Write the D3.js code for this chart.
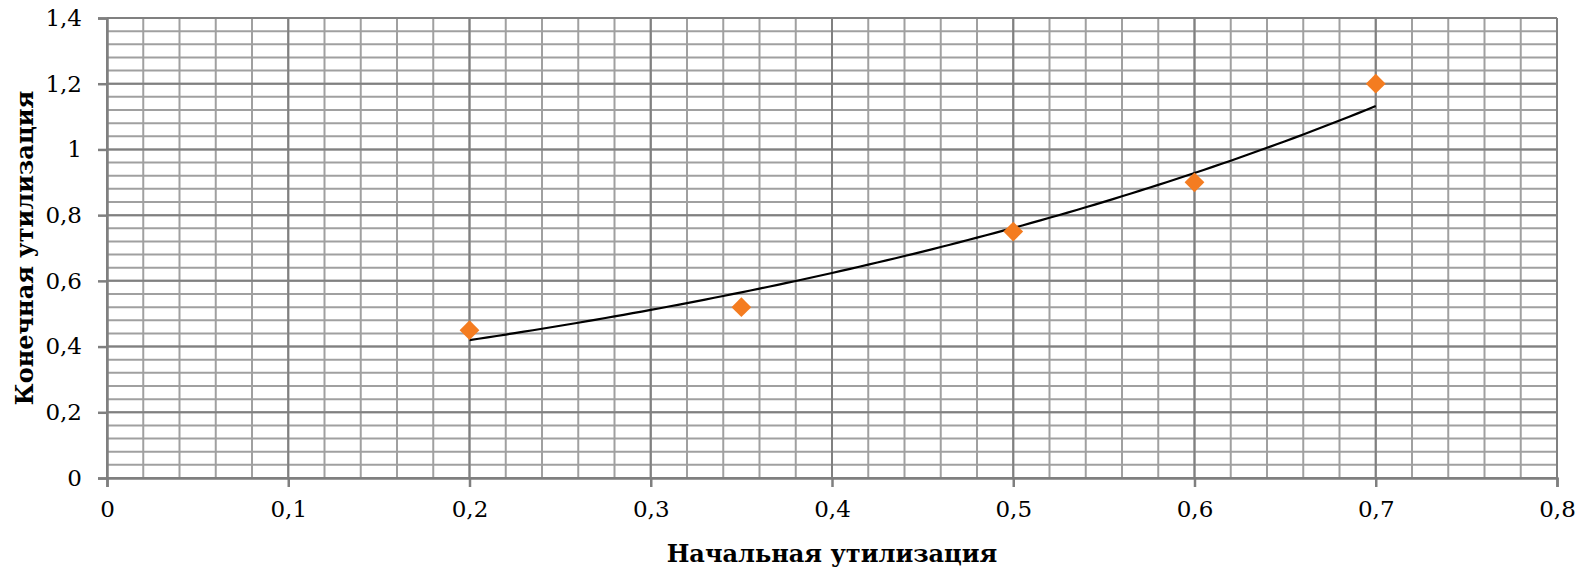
<!DOCTYPE html>
<html>
<head>
<meta charset="utf-8">
<script src="https://cdn.jsdelivr.net/npm/d3@7/dist/d3.min.js"></script>
<style>
  html, body { margin: 0; padding: 0; background: #fff; }
  svg { display: block; }
  text { font-family: "DejaVu Serif", "Liberation Serif", serif; fill: #000; }
</style>
</head>
<body>
<svg id="chart" width="1583" height="569"></svg>
<script>
// ---- data ----
const xValues = [0.2, 0.35, 0.5, 0.6, 0.7];
const yValues = [0.45, 0.52, 0.75, 0.9, 1.2];
const xTicks = [0, 0.1, 0.2, 0.3, 0.4, 0.5, 0.6, 0.7, 0.8];
const yTicks = [0, 0.2, 0.4, 0.6, 0.8, 1, 1.2, 1.4];
const xTitle = "Начальная утилизация";
const yTitle = "Конечная утилизация";

const svg = d3.select("#chart");
const margin = { left: 107, right: 26, top: 18, bottom: 91 };
const W = 1583, H = 569;
const x = d3.scaleLinear().domain([0, 0.8]).range([margin.left, W - margin.right]);
const y = d3.scaleLinear().domain([0, 1.4]).range([H - margin.bottom, margin.top]);

const fmt = v => d3.format("~g")(+v.toFixed(2)).replace(".", ",");

// minor grid
const g = svg.append("g");
const xMinor = d3.range(0, 0.8001, 0.02).map(v => +v.toFixed(2));
const yMinor = d3.range(0, 1.4001, 0.04).map(v => +v.toFixed(2));
g.selectAll(".vminor").data(xMinor).enter().append("line")
  .attr("x1", d => x(d)).attr("x2", d => x(d))
  .attr("y1", y(0)).attr("y2", y(1.4))
  .attr("stroke", "#a0a0a0").attr("stroke-width", 2);
g.selectAll(".hminor").data(yMinor).enter().append("line")
  .attr("x1", x(0)).attr("x2", x(0.8))
  .attr("y1", d => y(d)).attr("y2", d => y(d))
  .attr("stroke", "#a0a0a0").attr("stroke-width", 2);
// major grid
g.selectAll(".vmajor").data(xTicks).enter().append("line")
  .attr("x1", d => x(d)).attr("x2", d => x(d))
  .attr("y1", y(0)).attr("y2", y(1.4))
  .attr("stroke", "#808080").attr("stroke-width", 2);
g.selectAll(".hmajor").data(yTicks).enter().append("line")
  .attr("x1", x(0)).attr("x2", x(0.8))
  .attr("y1", d => y(d)).attr("y2", d => y(d))
  .attr("stroke", "#808080").attr("stroke-width", 2);

// axes
const xAxis = d3.axisBottom(x).tickValues(xTicks).tickFormat(fmt).tickSize(9).tickPadding(14);
const yAxis = d3.axisLeft(y).tickValues(yTicks).tickFormat(fmt).tickSize(9).tickPadding(16);
const gx = svg.append("g").attr("transform", `translate(0,${y(0)})`).call(xAxis);
const gy = svg.append("g").attr("transform", `translate(${x(0)},0)`).call(yAxis);
[gx, gy].forEach(a => {
  a.select(".domain").attr("stroke", "#7f7f7f").attr("stroke-width", 2.5);
  a.selectAll(".tick line").attr("stroke", "#7f7f7f").attr("stroke-width", 2.5);
  a.selectAll("text").style("font-family", "DejaVu Serif, serif").style("font-size", "23px").attr("fill", "#000");
});

// exponential trendline (least squares on ln y), computed from the data
const lx = xValues, ly = yValues.map(Math.log);
const mx = d3.mean(lx), my = d3.mean(ly);
const b = d3.sum(lx.map((v, i) => (v - mx) * (ly[i] - my))) / d3.sum(lx.map(v => (v - mx) ** 2));
const a = Math.exp(my - b * mx);
const xs = d3.range(0, 101).map(i => d3.min(xValues) + (d3.max(xValues) - d3.min(xValues)) * i / 100);
svg.append("path")
  .datum(xs)
  .attr("d", d3.line().x(d => x(d)).y(d => y(a * Math.exp(b * d))))
  .attr("fill", "none").attr("stroke", "#000").attr("stroke-width", 2.2);

// markers
svg.selectAll(".pt").data(xValues.map((v, i) => [v, yValues[i]])).enter().append("path")
  .attr("d", d3.symbol().type(d3.symbolDiamond2).size(250))
  .attr("transform", d => `translate(${x(d[0])},${y(d[1])})`)
  .attr("fill", "#f47c20");

// titles
svg.append("text")
  .attr("x", (x(0) + x(0.8)) / 2).attr("y", 562)
  .attr("text-anchor", "middle")
  .style("font-size", "24px").style("font-weight", "bold")
  .text(xTitle);
svg.append("text")
  .attr("transform", `translate(33,${(y(0) + y(1.4)) / 2}) rotate(-90)`)
  .attr("text-anchor", "middle")
  .style("font-size", "24px").style("font-weight", "bold")
  .text(yTitle);
</script>
</body>
</html>
